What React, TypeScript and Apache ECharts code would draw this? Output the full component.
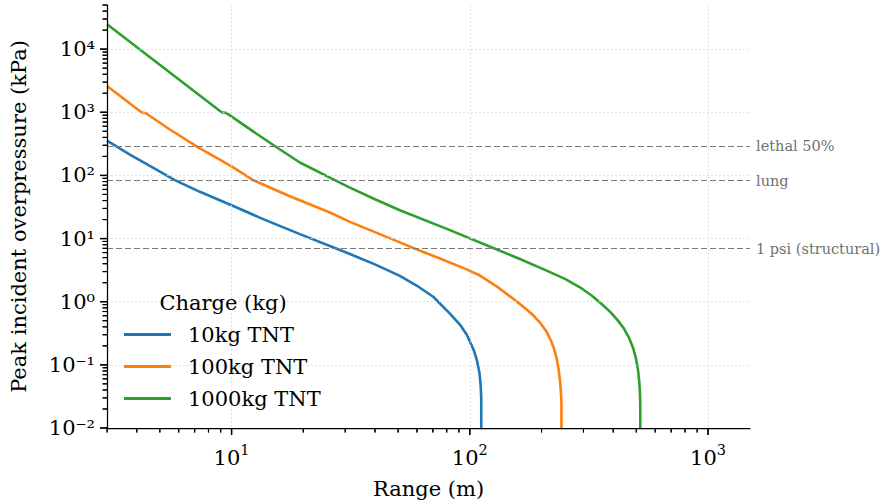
import React, { useEffect, useRef } from "react";
import * as echarts from "echarts";

// ---- data ----
const seriesNames = ["10kg TNT", "100kg TNT", "1000kg TNT"];
const seriesColors = ["#1f77b4", "#ff7f0e", "#2ca02c"];

const blueX = [3, 3.741, 4.539, 5.781, 7.361, 10, 13.57, 19.35, 27.14, 31.38, 39.96, 50.88, 59.8, 70.22, 82.5, 90.88, 96.96, 100.1, 104.0, 107.1, 109.7, 111.0, 111.7, 111.7];
const blueY = [355.8, 214.2, 141.1, 84.3, 55.0, 33.7, 20.3, 11.77, 7.09, 5.7, 3.9, 2.567, 1.806, 1.198, 0.647, 0.4343, 0.3021, 0.2345, 0.1692, 0.1177, 0.0762, 0.0493, 0.0297, 0.001];

const orangeX = [3, 4.182, 4.367, 5.508, 7.241, 10, 12.32, 17.57, 25.86, 31.38, 39.96, 50.88, 57.86, 74.91, 96.96, 110.3, 130.0, 152.1, 168.7, 184.6, 197.0, 210.1, 219.0, 225.5, 231.4, 236.2, 239.4, 241.3, 242.5, 242.5];
const orangeY = [2614, 1000, 964.5, 534.1, 279.0, 138.6, 84.3, 46.7, 25.85, 18.39, 12.66, 8.712, 7.09, 4.84, 3.249, 2.596, 1.735, 1.115, 0.819, 0.6088, 0.467, 0.3333, 0.2431, 0.1819, 0.1266, 0.0819, 0.053, 0.0356, 0.0248, 0.001];

const greenX = [3, 9.078, 9.528, 11.93, 15.45, 19.35, 25.86, 31.38, 39.96, 50.88, 82.5, 125.4, 162.3, 210.1, 250.8, 289.9, 325.6, 358.6, 391.2, 418.6, 443.6, 465.5, 483.8, 498.1, 507.8, 514.3, 517.8, 519.4, 519.4];
const greenY = [24750, 1000, 971, 539.9, 279.0, 160.2, 92.0, 64.0, 41.88, 28.11, 13.61, 7.09, 4.755, 3.111, 2.302, 1.692, 1.243, 0.9133, 0.6711, 0.5022, 0.3757, 0.271, 0.1887, 0.1266, 0.0849, 0.055, 0.0356, 0.0248, 0.001];

const refNames = ["lethal 50%", "lung", "1 psi (structural)"];
const refValues = [290, 83, 6.9];

const X_MIN = 3;
const X_MAX = 1500;
const Y_MIN = 0.01;
const Y_MAX = 50000;

const xMajor = [10, 100, 1000];
const yMajor = [0.01, 0.1, 1, 10, 100, 1000, 10000];
const xMinor = [3, 4, 5, 6, 7, 8, 9, 20, 30, 40, 50, 60, 70, 80, 90, 200, 300, 400, 500, 600, 700, 800, 900];
const yMinor = [
  0.02, 0.03, 0.04, 0.05, 0.06, 0.07, 0.08, 0.09,
  0.2, 0.3, 0.4, 0.5, 0.6, 0.7, 0.8, 0.9,
  2, 3, 4, 5, 6, 7, 8, 9,
  20, 30, 40, 50, 60, 70, 80, 90,
  200, 300, 400, 500, 600, 700, 800, 900,
  2000, 3000, 4000, 5000, 6000, 7000, 8000, 9000,
  20000, 30000, 40000, 49900,
];

const FONT = "'DejaVu Serif', serif";
const SUP: Record<string, string> = {
  "0": "\u2070", "1": "\u00b9", "2": "\u00b2", "3": "\u00b3", "4": "\u2074",
  "5": "\u2075", "6": "\u2076", "7": "\u2077", "8": "\u2078", "9": "\u2079", "-": "\u207b",
};

function zip(xs: number[], ys: number[]) {
  return xs.map((x, i) => [x, ys[i]]);
}

function isPow(v: number) {
  const e = Math.round(Math.log10(v));
  return Math.abs(Math.log10(v) - e) < 1e-6 ? e : null;
}

function richPow(v: number) {
  const e = isPow(v);
  if (e === null) return "";
  const s = e < 0 ? "\u2212" + -e : "" + e;
  return `{b|10}{s|${s}}`;
}

function plainPow(v: number) {
  const e = isPow(v);
  if (e === null) return "";
  return "10" + String(e).split("").map((c) => SUP[c]).join("");
}

const richX = {
  b: { fontFamily: FONT, fontSize: 21, color: "#000", verticalAlign: "bottom", lineHeight: 26 },
  s: { fontFamily: FONT, fontSize: 14.5, color: "#000", verticalAlign: "top", lineHeight: 16 },
};

const gridLine = { color: "#d8d8d8", type: [1.5, 2.5], width: 1 };

function inside(v: number, lo: number) {
  return Math.max(v, lo * 1.002);
}

function tickMarks(values: number[], isX: boolean, len: number, w: number) {
  return values.map((v) => ({
    coord: isX ? [inside(v, X_MIN), Y_MIN * 1.002] : [X_MIN * 1.002, inside(v, Y_MIN)],
    symbol: "rect",
    symbolSize: isX ? [w, len] : [len, w],
    symbolOffset: isX ? [0, len / 2] : [-len / 2, 0],
    itemStyle: { color: "#000" },
    label: { show: false },
  }));
}

// ticks as custom-series rectangles placed through the axes' own scales
function tickCustom(name: string, values: number[], isX: boolean, len: number, w: number) {
  return {
    type: "custom",
    name,
    data: values.map((v) => (isX ? [v, Y_MIN] : [X_MIN, v])),
    renderItem: (params: any, api: any) => {
      const p = api.coord([api.value(0), api.value(1)]);
      const shape = isX
        ? { x: p[0] - w / 2, y: p[1], width: w, height: len }
        : { x: p[0] - len, y: p[1] - w / 2, width: len, height: w };
      return { type: "rect", shape, style: { fill: "#000" } };
    },
  };
}

export default function App() {
  const ref = useRef<HTMLDivElement>(null);
  useEffect(() => {
    if (!ref.current) return;
    const chart = echarts.init(ref.current, null, { renderer: "svg" });
    const datas = [zip(blueX, blueY), zip(orangeX, orangeY), zip(greenX, greenY)];
    const lineSeries: any[] = datas.map((d, i) => ({
      type: "line",
      name: seriesNames[i],
      data: d,
      showSymbol: false,
      symbol: "none",
      clip: true,
      color: seriesColors[i],
      lineStyle: { width: 2.6, color: seriesColors[i] },
      z: 2,
    }));
    lineSeries[0].markLine = {
      symbol: "none",
      silent: true,
      animation: false,
      lineStyle: { color: "#7a7a7a", type: [6, 3], width: 1.2 },
      label: {
        position: "end",
        formatter: "{b}",
        color: "#707070",
        fontFamily: FONT,
        fontSize: 14.5,
        distance: 6,
      },
      data: refNames.map((n, i) => ({ name: n, yAxis: refValues[i] })),
    };
    lineSeries[0].markPoint = {
      silent: true,
      animation: false,
      label: { show: false },
      data: [
        ...tickMarks(xMajor, true, 7, 1.3),
        ...tickMarks(xMinor, true, 4.5, 1.1),
        ...tickMarks(yMajor, false, 7, 1.3),
        ...tickMarks(yMinor, false, 4.5, 1.1),
      ],
    };
    const tickSeries = [
      tickCustom("xMajorTicks", xMajor, true, 7, 1.3),
      tickCustom("xMinorTicks", xMinor, true, 4.5, 1.1),
      tickCustom("yMajorTicks", yMajor, false, 7, 1.3),
      tickCustom("yMinorTicks", yMinor, false, 4.5, 1.1),
    ];
    chart.setOption({
      animation: false,
      backgroundColor: "#ffffff",
      textStyle: { fontFamily: FONT },
      grid: { left: 107, right: 133, top: 5, bottom: 74, containLabel: false },
      legend: {
        orient: "vertical",
        left: 124,
        top: 322,
        itemWidth: 47,
        itemHeight: 3,
        icon: "rect",
        itemGap: 7,
        padding: 0,
        z: 10,
        data: seriesNames,
        textStyle: { fontFamily: FONT, fontSize: 21, color: "#000", lineHeight: 25, padding: [0, 0, 0, 12] },
      },
      graphic: [
        {
          type: "rect",
          z: 3,
          silent: true,
          shape: { x: 115, y: 284, width: 222, height: 132 },
          style: { fill: "#ffffff" },
        },
        {
          type: "text",
          z: 10,
          x: 223,
          y: 303,
          style: {
            text: "Charge (kg)",
            font: `21px ${FONT}`,
            fill: "#000",
            textAlign: "center",
            textVerticalAlign: "middle",
          },
        },
      ],
      xAxis: {
        type: "log",
        logBase: 10,
        min: X_MIN,
        max: X_MAX,
        name: "Range (m)",
        nameLocation: "middle",
        nameGap: 50,
        nameTextStyle: { fontFamily: FONT, fontSize: 21, color: "#000" },
        axisLine: { show: true, lineStyle: { color: "#000", width: 1.25 } },
        axisTick: { show: false },
        axisLabel: { margin: 14, formatter: richPow, rich: richX, showMinLabel: false, showMaxLabel: false },
        splitLine: { show: true, showMinLine: false, showMaxLine: false, lineStyle: gridLine },
        minorTick: { show: false },
        z: 5,
      },
      yAxis: {
        type: "log",
        logBase: 10,
        min: Y_MIN,
        max: Y_MAX,
        name: "Peak incident overpressure (kPa)",
        nameLocation: "middle",
        nameGap: 78,
        nameTextStyle: { fontFamily: FONT, fontSize: 21, color: "#000" },
        axisLine: { show: true, lineStyle: { color: "#000", width: 1.25 } },
        axisTick: { show: false },
        axisLabel: {
          margin: 12,
          align: "right",
          formatter: plainPow,
          fontFamily: FONT,
          fontSize: 21,
          color: "#000",
        },
        splitLine: { show: true, showMinLine: false, showMaxLine: false, lineStyle: gridLine },
        minorTick: { show: false },
        z: 5,
      },
      series: [...lineSeries, ...tickSeries],
    });
    return () => chart.dispose();
  }, []);
  return (
    <div
      ref={ref}
      style={{ position: "fixed", left: 0, top: 0, width: 883, height: 504, background: "#fff" }}
    />
  );
}
